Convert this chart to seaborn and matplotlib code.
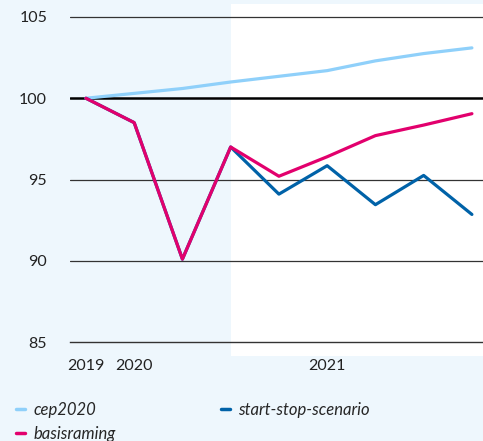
import numpy as np
import pandas as pd
import matplotlib.pyplot as plt
import seaborn as sns
from matplotlib.lines import Line2D

sns.set_theme(style="white")
plt.rcParams['font.family'] = ['Lato', 'DejaVu Sans']

# data (index 100), quarters from 2019 onward
periods = list(range(9))
tick_labels = ['2019', '2020', '', '', '', '2021', '', '', '']
cep2020 = [100.0, 100.3, 100.6, 101.0, 101.35, 101.7, 102.3, 102.75, 103.1]
basisraming = [100.0, 98.5, 90.1, 97.0, 95.2, 96.4, 97.7, 98.35, 99.05]
start_stop = [100.0, 98.5, 90.1, 97.0, 94.1, 95.85, 93.45, 95.25, 92.85]

colors = {'cep2020': '#8fd0fa', 'basisraming': '#e2006d', 'start-stop-scenario': '#0062a8'}
bg = '#eef7fd'

df = pd.DataFrame({'periode': periods * 3,
                   'waarde': cep2020 + start_stop + basisraming,
                   'reeks': ['cep2020'] * 9 + ['start-stop-scenario'] * 9 + ['basisraming'] * 9})

fig = plt.figure(figsize=(4.83, 4.41), dpi=100, facecolor=bg)
ax = fig.add_axes([70 / 483, 1 - 342 / 441, 1 - 70 / 483, 338 / 441])
ax.set_facecolor('none')

xmin, xmax = -0.33, 8.23
ax.set_xlim(xmin, xmax)
ax.set_ylim(85, 105.8)

# white panel for the projection period
ax.axvspan(3, xmax, ymin=-0.04, ymax=1, color='white', zorder=0, clip_on=False, lw=0)

# gridlines
for yv in [90, 95, 105]:
    ax.axhline(yv, color='#333333', lw=0.9, zorder=1)
ax.axhline(100, color='black', lw=1.8, zorder=1)

for i, name in enumerate(['cep2020', 'start-stop-scenario', 'basisraming']):
    sub = df[df['reeks'] == name]
    sns.lineplot(data=sub, x='periode', y='waarde', color=colors[name], lw=2.3,
                 ax=ax, zorder=3 + i, legend=False)

for s in ['top', 'right', 'left']:
    ax.spines[s].set_visible(False)
ax.spines['bottom'].set_color('#333333')
ax.spines['bottom'].set_linewidth(1.0)

ax.set_xticks(periods)
ax.set_xticklabels(tick_labels, fontsize=11.5, color='#222222')
ax.tick_params(axis='x', direction='inout', length=5, width=0.9, color='#333333', pad=10)
ax.set_yticks([85, 90, 95, 100, 105])
ax.set_yticklabels(['85', '90', '95', '100', '105'], fontsize=11.5, color='#222222')
ax.tick_params(axis='y', length=0, pad=16.5)
ax.set_xlabel('')
ax.set_ylabel('')

handles = [Line2D([], [], color=colors[n], lw=2.5) for n in ['cep2020', 'basisraming', 'start-stop-scenario']]
fig.legend(handles, ['cep2020', 'basisraming', 'start-stop-scenario'], ncol=2,
           loc='upper left', bbox_to_anchor=(16 / 483, 1 - 402 / 441), frameon=False,
           borderpad=0, borderaxespad=0,
           handlelength=0.55, handletextpad=0.5, columnspacing=6.3, labelspacing=0.45,
           prop={'size': 12, 'style': 'italic'})

fig.savefig('out.png', dpi=100, facecolor=bg)
